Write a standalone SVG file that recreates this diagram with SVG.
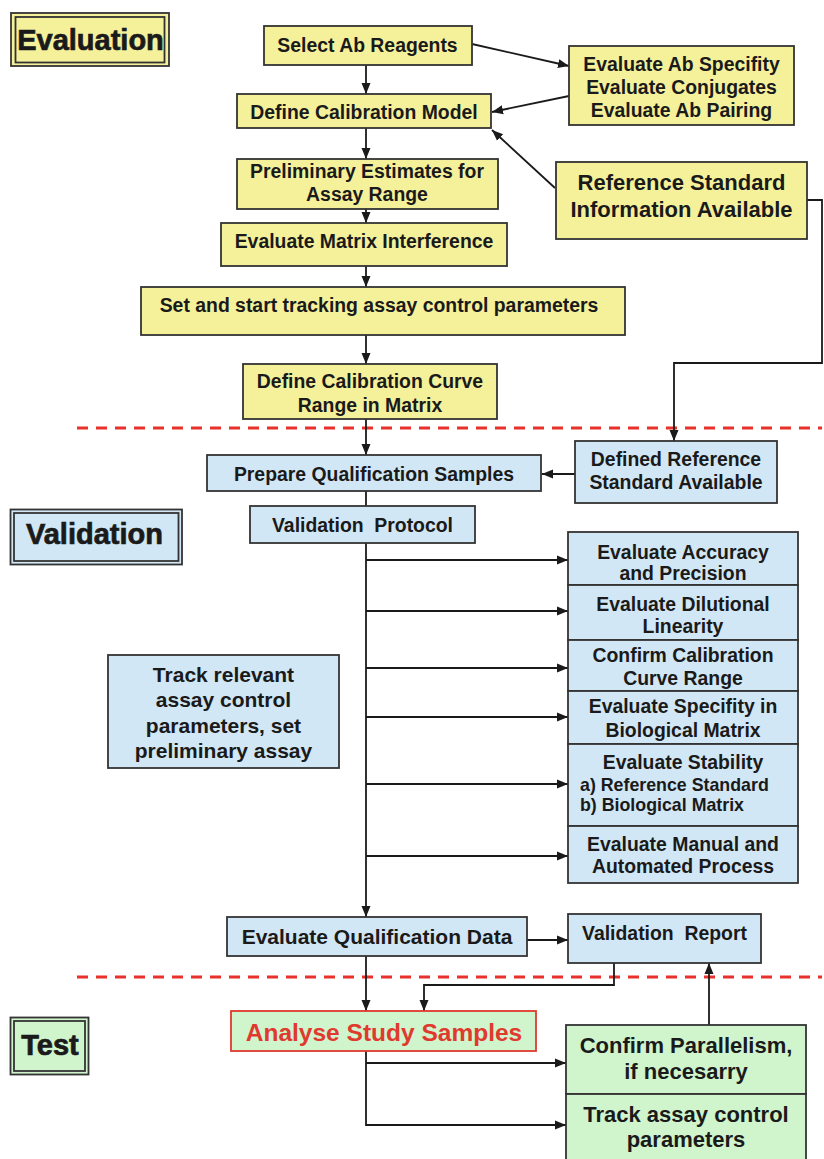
<svg xmlns="http://www.w3.org/2000/svg" width="824" height="1159" viewBox="0 0 824 1159">
<defs>
<marker id="ah" markerUnits="userSpaceOnUse" markerWidth="12" markerHeight="12" viewBox="0 0 12 12" refX="11" refY="6" orient="auto">
<path d="M0,1.5 L11,6 L0,10.5 Z" fill="#1a1a1a"/>
</marker>
<style>
.y{fill:#f5f19b;stroke:#333;stroke-width:1.8}
.b{fill:#d2e7f5;stroke:#333;stroke-width:1.8}
.g{fill:#d0f4cc;stroke:#333;stroke-width:1.8}
.r{fill:#d0f4cc;stroke:#e0392e;stroke-width:1.8}
text{font-family:"Liberation Sans",Arial,sans-serif;font-weight:bold;font-size:19.4px;fill:#1a1a1a;text-anchor:middle}
.big{font-size:22px}
.sm{font-size:17.8px;text-anchor:start}
.lbl{font-size:29px;stroke:#1a1a1a;stroke-width:0.7}
.red{fill:#e0392e;font-size:24.5px}
.pre{white-space:pre}
.c path,.c line{fill:none;stroke:#1a1a1a;stroke-width:1.8}
.d{fill:none;stroke:#e8312a;stroke-width:3;stroke-dasharray:11 8}
</style>
</defs>

<g id="dividers">
<line class="d" x1="77" y1="428" x2="822" y2="428"/>
<line class="d" x1="77" y1="977" x2="822" y2="977"/>
</g>

<g class="c" id="connectors">
<path d="M366,65 V94" marker-end="url(#ah)"/>
<path d="M366,128 V159" marker-end="url(#ah)"/>
<path d="M366,209 V223" marker-end="url(#ah)"/>
<path d="M366,266 V287" marker-end="url(#ah)"/>
<path d="M366,335 V364" marker-end="url(#ah)"/>
<path d="M366,419 V455" marker-end="url(#ah)"/>
<path d="M472,44 L569,66" marker-end="url(#ah)"/>
<path d="M569,96 L492,112" marker-end="url(#ah)"/>
<path d="M555,188 L492,130" marker-end="url(#ah)"/>
<path d="M807,200 H822 V363 H674 V441" marker-end="url(#ah)"/>
<path d="M575,474 H542" marker-end="url(#ah)"/>
<path d="M366,491 V506"/>
<path d="M366,543 V917" marker-end="url(#ah)"/>
<path d="M366,560 H568" marker-end="url(#ah)"/>
<path d="M366,611 H568" marker-end="url(#ah)"/>
<path d="M366,668 H568" marker-end="url(#ah)"/>
<path d="M366,717 H568" marker-end="url(#ah)"/>
<path d="M366,784 H568" marker-end="url(#ah)"/>
<path d="M366,856 H568" marker-end="url(#ah)"/>
<path d="M527,940 H568" marker-end="url(#ah)"/>
<path d="M366,956 V1011" marker-end="url(#ah)"/>
<path d="M614,963 V985 H424 V1011" marker-end="url(#ah)"/>
<path d="M709,1025 V963" marker-end="url(#ah)"/>
<path d="M366,1051 V1125 H566" marker-end="url(#ah)"/>
<path d="M366,1063 H566" marker-end="url(#ah)"/>
</g>

<g id="evaluation-label">
<rect class="y" x="11" y="13" width="158" height="53"/>
<rect class="y" x="15.5" y="17" width="149" height="45.5"/>
<text class="lbl" x="90.5" y="50">Evaluation</text>
</g>
<g id="select-ab">
<rect class="y" x="264" y="26" width="208" height="39"/>
<text x="367.5" y="52">Select Ab Reagents</text>
</g>
<g id="define-cal-model">
<rect class="y" x="237" y="94" width="254" height="34"/>
<text x="364" y="119">Define Calibration Model</text>
</g>
<g id="prelim">
<rect class="y" x="237" y="159" width="261" height="50"/>
<text x="367" y="178">Preliminary Estimates for</text>
<text x="367" y="201">Assay Range</text>
</g>
<g id="matrix">
<rect class="y" x="221" y="223" width="286" height="43"/>
<text x="364" y="248">Evaluate Matrix Interference</text>
</g>
<g id="set-start">
<rect class="y" x="141" y="287" width="484" height="48"/>
<text x="379" y="312">Set and start tracking assay control parameters</text>
</g>
<g id="define-curve">
<rect class="y" x="243" y="364" width="254" height="55"/>
<text x="370" y="388">Define Calibration Curve</text>
<text x="370" y="412">Range in Matrix</text>
</g>
<g id="eval-ab">
<rect class="y" x="569" y="46" width="225" height="79"/>
<text x="681.5" y="71">Evaluate Ab Specifity</text>
<text x="681.5" y="94">Evaluate Conjugates</text>
<text x="681.5" y="117">Evaluate Ab Pairing</text>
</g>
<g id="ref-std-info">
<rect class="y" x="556" y="162" width="251" height="77"/>
<text class="big" x="681.5" y="190">Reference Standard</text>
<text class="big" x="681.5" y="217">Information Available</text>
</g>

<g id="prepare">
<rect class="b" x="207" y="455" width="334" height="36"/>
<text x="374" y="481">Prepare Qualification Samples</text>
</g>
<g id="defined-ref">
<rect class="b" x="575" y="441" width="202" height="62"/>
<text x="676" y="466">Defined Reference</text>
<text x="676" y="489">Standard Available</text>
</g>
<g id="validation-label">
<rect class="b" x="10.5" y="509.5" width="171.5" height="55" stroke-width="1.5"/>
<rect class="b" x="14" y="513" width="164.5" height="48"/>
<text class="lbl" x="94.5" y="544">Validation</text>
</g>
<g id="val-protocol">
<rect class="b" x="250" y="506" width="225" height="37"/>
<text class="pre" x="362.5" y="532" xml:space="preserve">Validation  Protocol</text>
</g>
<g id="track-relevant">
<rect class="b" x="108" y="655" width="231" height="113"/>
<text x="223.5" y="682" style="font-size:21px">Track relevant</text>
<text x="223.5" y="707" style="font-size:21px">assay control</text>
<text x="223.5" y="733" style="font-size:21px">parameters, set</text>
<text x="223.5" y="758" style="font-size:21px">preliminary assay</text>
</g>
<g id="accuracy">
<rect class="b" x="568" y="532" width="230" height="53"/>
<text x="683" y="559">Evaluate Accuracy</text>
<text x="683" y="580">and Precision</text>
</g>
<g id="dilutional">
<rect class="b" x="568" y="585" width="230" height="55"/>
<text x="683" y="611">Evaluate Dilutional</text>
<text x="683" y="633">Linearity</text>
</g>
<g id="confirm-cal">
<rect class="b" x="568" y="640" width="230" height="51"/>
<text x="683" y="662">Confirm Calibration</text>
<text x="683" y="685">Curve Range</text>
</g>
<g id="specifity">
<rect class="b" x="568" y="691" width="230" height="53"/>
<text x="683" y="713">Evaluate Specifity in</text>
<text x="683" y="737">Biological Matrix</text>
</g>
<g id="stability">
<rect class="b" x="568" y="744" width="230" height="82"/>
<text x="683" y="769">Evaluate Stability</text>
<text class="sm" x="580" y="791">a) Reference Standard</text>
<text class="sm" x="580" y="811">b) Biological Matrix</text>
</g>
<g id="manual">
<rect class="b" x="568" y="826" width="230" height="57"/>
<text x="683" y="851">Evaluate Manual and</text>
<text x="683" y="873">Automated Process</text>
</g>
<g id="eval-qual-data">
<rect class="b" x="227" y="917" width="300" height="39"/>
<text x="377" y="944" style="font-size:21px">Evaluate Qualification Data</text>
</g>
<g id="val-report">
<rect class="b" x="568" y="914" width="193" height="49"/>
<text class="pre" x="664.5" y="940" xml:space="preserve">Validation  Report</text>
</g>

<g id="test-label">
<rect class="g" x="10.5" y="1017.5" width="78" height="57" stroke-width="1.5"/>
<rect class="g" x="14" y="1021" width="71" height="50"/>
<text class="lbl" x="50" y="1055">Test</text>
</g>
<g id="analyse">
<rect class="r" x="231" y="1011" width="305" height="40"/>
<text class="red" x="384" y="1041">Analyse Study Samples</text>
</g>
<g id="parallelism">
<rect class="g" x="566" y="1025" width="240" height="69"/>
<text class="big" x="686" y="1053">Confirm Parallelism,</text>
<text class="big" x="686" y="1079">if necesarry</text>
</g>
<g id="track-assay">
<rect class="g" x="566" y="1094" width="240" height="72"/>
<text class="big" x="686" y="1122">Track assay control</text>
<text class="big" x="686" y="1147">parameters</text>
</g>
</svg>
